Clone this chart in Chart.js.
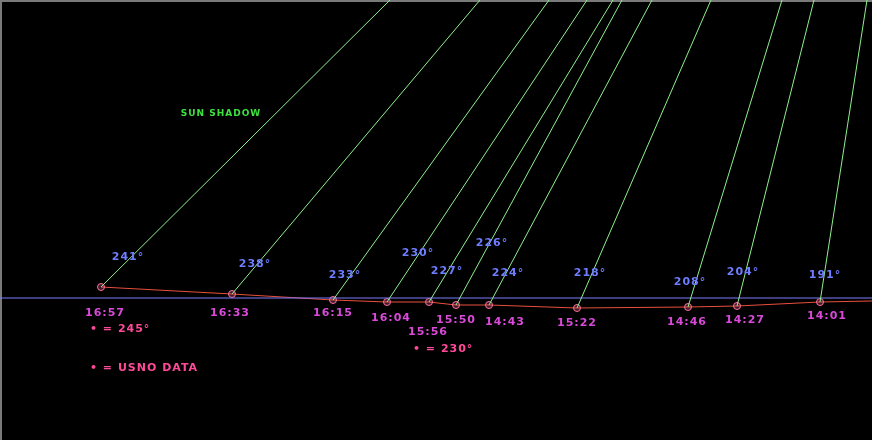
<!DOCTYPE html>
<html>
<head>
<meta charset="utf-8">
<script src="https://cdn.jsdelivr.net/npm/chart.js@4.4.1/dist/chart.umd.min.js"></script>
<style>
  html, body { margin: 0; padding: 0; background: #000; }
  #wrap { width: 872px; height: 440px; }
</style>
</head>
<body>
<div id="wrap"><canvas id="shadowChart" width="872" height="440"></canvas></div>
<script>
// observations, in the order they are drawn left to right
const times = ['16:57', '16:33', '16:15', '16:04', '15:56', '15:50', '14:43', '15:22', '14:46', '14:27', '14:01'];
const azimuths = [241, 238, 233, 230, 227, 226, 224, 218, 208, 204, 191];
const pointX = [101, 232, 333, 387, 429, 456, 489, 577, 688, 737, 820];
const pointY = [287, 294, 300, 302, 302, 305, 305, 308, 307, 306, 302];
// where each shadow line leaves the top of the plot
const shadowTopX = [390, 480, 549, 587, 613, 622, 652, 711, 782, 814, 867];

// label anchors (same units as the plot)
const timeLabelX = [105, 230, 333, 391, 428, 456, 505, 577, 687, 745, 827];
const timeLabelY = [313, 313, 313, 318, 332, 320, 322, 323, 322, 320, 316];
const angleLabelX = [128, 255, 345, 418, 447, 492, 508, 590, 690, 743, 825];
const angleLabelY = [257, 264, 275, 253, 271, 243, 273, 273, 282, 272, 275];

const groundY = 298;
const traceEnd = { x: 872, y: 301 };

const notes = ['\u2022 = 245\u00b0', '\u2022 = 230\u00b0', '\u2022 = USNO DATA'];
const noteX = [90, 413, 90];
const noteY = [329, 349, 368];
const titleText = 'SUN SHADOW';

const textPlugin = {
  id: 'texts',
  beforeDraw(chart) {
    const { ctx, width, height } = chart;
    ctx.save();
    ctx.fillStyle = '#000';
    ctx.fillRect(0, 0, width, height);
    ctx.strokeStyle = '#7a7a7a';
    ctx.lineWidth = 2;
    ctx.beginPath();
    ctx.moveTo(0, 1);
    ctx.lineTo(width, 1);
    ctx.moveTo(1, 0);
    ctx.lineTo(1, height);
    ctx.stroke();
    ctx.restore();
  },
  afterDatasetsDraw(chart) {
    const { ctx } = chart;
    const xs = chart.scales.x;
    const ys = chart.scales.y;
    const put = (text, x, y, color, align) => {
      ctx.fillStyle = color;
      ctx.textAlign = align || 'center';
      ctx.fillText(text, xs.getPixelForValue(x), ys.getPixelForValue(y));
    };
    ctx.save();
    ctx.textBaseline = 'middle';
    ctx.font = 'bold 11px "DejaVu Sans"';
    ctx.letterSpacing = '1px';
    times.forEach((t, i) => put(t, timeLabelX[i], timeLabelY[i], '#d94ad9'));
    azimuths.forEach((a, i) => put(a + '\u00b0', angleLabelX[i], angleLabelY[i], '#6f7dff'));
    notes.forEach((n, i) => put(n, noteX[i], noteY[i], '#ff4a9a', 'left'));
    ctx.font = 'bold 9px "DejaVu Sans"';
    put(titleText, 221, 114, '#3fe03f');
    ctx.restore();
  },
};

// one green line per observation, from the mark to the top edge
const shadowSets = pointX.map((x, i) => ({
  data: [{ x: x, y: pointY[i] }, { x: shadowTopX[i], y: 0 }],
  borderColor: '#8cf08c',
  borderWidth: 1,
  pointRadius: 0,
  showLine: true,
}));

const groundSet = {
  data: [{ x: 0, y: groundY }, { x: 872, y: groundY }],
  borderColor: '#7c7cff',
  borderWidth: 1,
  pointRadius: 0,
  showLine: true,
};

const trace = pointX.map((x, i) => ({ x: x, y: pointY[i] }));
trace.push(traceEnd);

const traceSet = {
  data: trace,
  borderColor: '#e8503c',
  borderWidth: 1,
  pointRadius: trace.map((_, i) => (i < pointX.length ? 3.5 : 0)),
  pointBorderColor: '#ff6f9f',
  pointBackgroundColor: 'rgba(255,111,159,0.25)',
  pointBorderWidth: 1,
  showLine: true,
};

new Chart(document.getElementById('shadowChart'), {
  type: 'scatter',
  data: { datasets: [...shadowSets, groundSet, traceSet] },
  options: {
    responsive: false,
    animation: false,
    layout: { padding: 0, autoPadding: false },
    elements: { line: { tension: 0 } },
    scales: {
      x: { type: 'linear', min: 0, max: 872, display: false },
      y: { type: 'linear', min: 0, max: 440, reverse: true, display: false },
    },
    plugins: { legend: { display: false }, tooltip: { enabled: false } },
  },
  plugins: [textPlugin],
});
</script>
</body>
</html>
